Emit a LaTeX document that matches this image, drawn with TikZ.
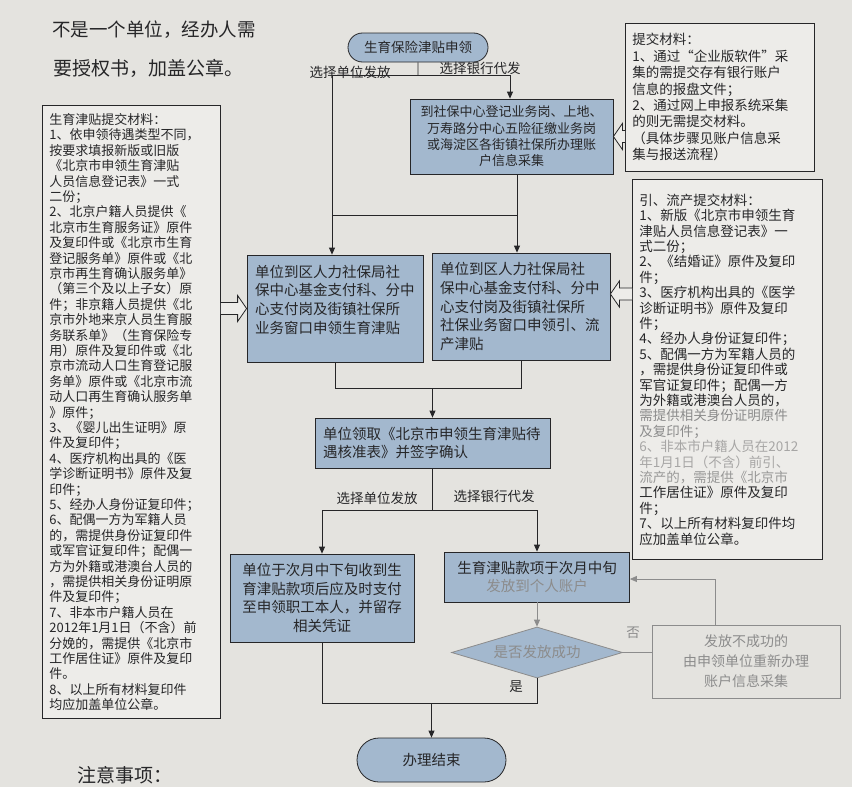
\documentclass[tikz,border=0pt]{standalone}
\usepackage{fontspec}
\setmainfont{Noto Sans CJK SC}
\usetikzlibrary{positioning,calc,shapes.geometric,shapes.misc,arrows.meta}
\definecolor{paper}{RGB}{228,227,223}
\definecolor{matfill}{RGB}{237,236,233}
\definecolor{procblue}{RGB}{163,184,206}
\definecolor{ink}{RGB}{38,38,40}
\definecolor{fade}{RGB}{140,140,140}

% outline arrow from a material box to a step box (horizontal)
\newcommand{\hollowarrow}[2]{%
  \draw[draw=ink, line width=0.8pt, fill=matfill, line join=miter]
    let \p1=#1, \p2=#2, \n1={sign(\x2-\x1)} in
    (\x1,\y1+6pt) -- ({\x2-\n1*9pt},\y1+6pt) -- ({\x2-\n1*9pt},\y1+13pt) -- (\x2,\y1)
    -- ({\x2-\n1*9pt},\y1-13pt) -- ({\x2-\n1*9pt},\y1-6pt) -- (\x1,\y1-6pt);}

\begin{document}
\begin{tikzpicture}[
  x=1pt, y=-1pt,
  >={Triangle[length=7pt,width=6pt]},
  proc/.style={rectangle, draw=ink, fill=procblue, line width=0.8pt, text=ink, inner xsep=8pt, inner ysep=6pt, font=\fontsize{14.5}{18.7}\selectfont},
  term/.style={rounded rectangle, draw=ink, fill=procblue, line width=0.8pt, text=ink, inner sep=0pt},
  decide/.style={diamond, aspect=3.35, draw=fade, fill=procblue, line width=0.8pt, text=fade, inner sep=0pt, font=\fontsize{14.5}{18}\selectfont},
  matbox/.style={rectangle, draw=ink, fill=matfill, line width=0.8pt, text=ink, align=left, anchor=north west, inner xsep=7pt},
  lbl/.style={text=ink, font=\fontsize{13.5}{16}\selectfont},
  link/.style={draw=ink, line width=0.8pt},
  faded/.style={draw=fade, line width=0.8pt}
]
\useasboundingbox (0,0) rectangle (852,787);
\fill[paper] (0,0) rectangle (852,787);

% handwritten note and footer
\node[text=ink, font=\fontsize{18.5}{22}\selectfont] (hand1) at (154,30) {不是一个单位，经办人需};
\node[text=ink, font=\fontsize{19}{22}\selectfont] (hand2) at (148,68) {要授权书，加盖公章。};
\node[text=ink, font=\fontsize{19}{22}\selectfont] (notes) at (125,775) {注意事项：};

% main flow
\node[term, minimum width=140pt, minimum height=29pt, font=\fontsize{13.5}{16}\selectfont] (start) at (418,47.5) {生育保险津贴申领};
\node[proc, text width=187pt, minimum height=75pt, align=center, font=\fontsize{13}{16.3}\selectfont] (collect) at (511.5,136.5)
  {到社保中心登记业务岗、上地、\\万寿路分中心五险征缴业务岗\\或海淀区各街镇社保所办理账\\户信息采集};
\node[proc, text width=160pt, minimum height=107pt, align=left] (boxL) at (335,308.5)
  {单位到区人力社保局社\\保中心基金支付科、分中\\心支付岗及街镇社保所\\业务窗口申领生育津贴\\\mbox{}};
\node[proc, text width=162pt, minimum height=107pt, align=left] (boxR) at (521,306.5)
  {单位到区人力社保局社\\保中心基金支付科、分中\\心支付岗及街镇社保所\\社保业务窗口申领引、流\\产津贴};
\node[proc, text width=219pt, minimum height=50pt, align=left] (claim) at (432.5,443)
  {单位领取《北京市申领生育津贴待\\遇核准表》并签字确认};
\node[proc, text width=168pt, minimum height=88pt, align=center] (pay1) at (322,598)
  {单位于次月中下旬收到生\\育津贴款项后应及时支付\\至申领职工本人，并留存\\相关凭证};
\node[proc, text width=169pt, minimum height=50pt, align=center] (pay2) at (537,577)
  {生育津贴款项于次月中旬\\\textcolor{fade}{发放到个人账户}};
\node[decide, minimum width=171pt, minimum height=51pt] (dec) at (537,652.5) {是否发放成功};
\node[rectangle, draw=fade, line width=0.8pt, text=fade, text width=172pt, inner xsep=8pt, minimum height=73pt, align=center, font=\fontsize{14}{20}\selectfont] (fail) at (746,661.5)
  {发放不成功的\\由申领单位重新办理\\账户信息采集};
\node[term, minimum width=149pt, minimum height=44pt, font=\fontsize{14.5}{17}\selectfont] (finish) at (431.5,760) {办理结束};

% materials
\node[matbox, text width=164pt, inner ysep=8pt, font=\fontsize{13}{15.4}\selectfont] (lmat) at (42,105)
  {生育津贴提交材料：\\1、依申领待遇类型不同，\\按要求填报新版或旧版\\《北京市申领生育津贴\\人员信息登记表》一式\\二份；\\
   2、北京户籍人员提供《\\北京市生育服务证》原件\\及复印件或《北京市生育\\登记服务单》原件或《北\\京市再生育确认服务单》\\（第三个及以上子女）原\\件；非京籍人员提供《北\\京市外地来京人员生育服\\务联系单》（生育保险专\\用）原件及复印件或《北\\京市流动人口生育登记服\\务单》原件或《北京市流\\动人口再生育确认服务单\\》原件；\\
   3、《婴儿出生证明》原\\件及复印件；\\4、医疗机构出具的《医\\学诊断证明书》原件及复\\印件；\\5、经办人身份证复印件；\\6、配偶一方为军籍人员\\的，需提供身份证复印件\\或军官证复印件；配偶一\\方为外籍或港澳台人员的\\，需提供相关身份证明原\\件及复印件；\\
   7、非本市户籍人员在\\2012年1月1日（不含）前\\分娩的，需提供《北京市\\工作居住证》原件及复印\\件。\\8、以上所有材料复印件\\均应加盖单位公章。};
\node[matbox, text width=175pt, inner ysep=10pt, font=\fontsize{13.5}{16.4}\selectfont] (tmat) at (625,23)
  {提交材料：\\1、通过“企业版软件”采\\集的需提交存有银行账户\\信息的报盘文件；\\2、通过网上申报系统采集\\的则无需提交材料。\\（具体步骤见账户信息采\\集与报送流程）};
\node[matbox, text width=176pt, inner ysep=14.5pt, font=\fontsize{13.5}{15.4}\selectfont] (rmat) at (632,179)
  {引、流产提交材料：\\1、新版《北京市申领生育\\津贴人员信息登记表》一\\式二份；\\2、《结婚证》原件及复印\\件；\\3、医疗机构出具的《医学\\诊断证明书》原件及复印\\件；\\4、经办人身份证复印件；\\5、配偶一方为军籍人员的\\，需提供身份证复印件或\\军官证复印件；配偶一方\\为外籍或港澳台人员的，\\
   \textcolor{fade}{需提供相关身份证明原件}\\\textcolor{fade}{及复印件；}\\\textcolor{fade!70!paper}{6、非本市户籍人员在2012}\\\textcolor{fade!70!paper}{年1月1日（不含）前引、}\\\textcolor{fade!85!paper}{流产的，需提供《北京市}\\工作居住证》原件及复印\\件；\\7、以上所有材料复印件均\\应加盖单位公章。};

% branch points
\coordinate (a1) at (332,75);
\coordinate (a2) at (510,75);
\coordinate (a3) at (332,215);
\coordinate (a4) at (517,215);
\coordinate (m1) at (0,388);
\coordinate (c2) at (322,510);
\coordinate (c3) at (537,510);
\coordinate (e1) at (0,703);
\coordinate (f1) at (715,579);
\coordinate (rarr) at (0,294);

% connectors
\draw[link] (start) -- (start |- a1);
\draw[link] (a1) -- (a2);
\draw[link,->] (a1) -- (boxL.north -| a1);
\draw[link,->] (a2) -- (collect.north -| a2);
\draw[link] (collect.south -| a4) -- (a4) -- (a3);
\draw[link,->] (a4) -- (boxR.north -| a4);
\draw[link] (boxL.south) -- (boxL.south |- m1) -- (boxR.south |- m1) -- (boxR.south);
\draw[link,->] (claim.north |- m1) -- (claim.north);
\draw[link] (claim.south) -- (claim.south |- c2);
\draw[link] (c2) -- (c3);
\draw[link,->] (c2) -- (pay1.north -| c2);
\draw[link,->] (c3) -- (pay2.north -| c3);
\draw[faded,->] (pay2.south) -- (dec.north);
\draw[link] (pay1.south) -- (pay1.south |- e1) -- (dec.south |- e1) -- (dec.south);
\draw[link,->] (finish.north |- e1) -- (finish.north);
\draw[faded] (dec.east) -- (fail.west |- dec.east);
\draw[faded,->] (f1 |- fail.north) -- (f1) -- (pay2.east |- f1);

% material arrows
\hollowarrow{(lmat.east |- boxL.west)}{(boxL.west)}
\hollowarrow{(tmat.west |- collect.east)}{(collect.east)}
\hollowarrow{(rmat.west |- rarr)}{(boxR.east |- rarr)}

% labels
\node[lbl] (lb1) at (350,72) {选择单位发放};
\node[lbl] (lb2) at (480,68) {选择银行代发};
\node[lbl] (lb3) at (377,498) {选择单位发放};
\node[lbl] (lb4) at (494,496) {选择银行代发};
\node[lbl] (yes) at (516,687) {是};
\node[lbl, text=fade] (no) at (633,633) {否};
\end{tikzpicture}
\end{document}
